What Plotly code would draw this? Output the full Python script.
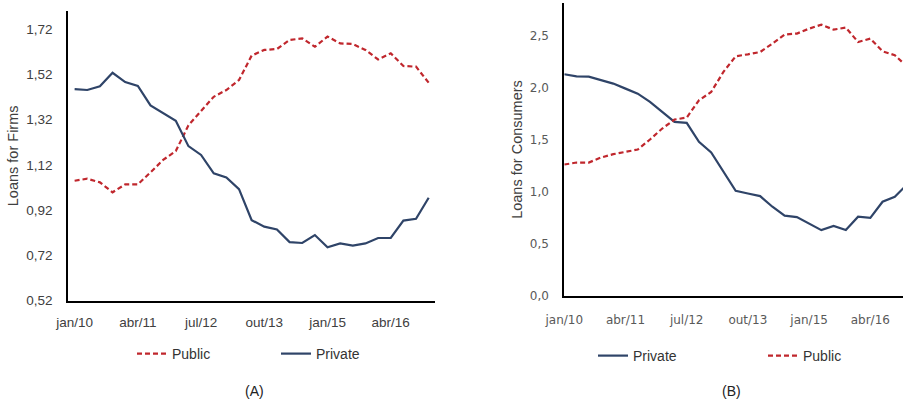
import plotly.graph_objects as go

quarters = ["jan/10", "abr/10", "jul/10", "out/10", "jan/11", "abr/11", "jul/11", "out/11",
            "jan/12", "abr/12", "jul/12", "out/12", "jan/13", "abr/13", "jul/13", "out/13",
            "jan/14", "abr/14", "jul/14", "out/14", "jan/15", "abr/15", "jul/15", "out/15",
            "jan/16", "abr/16", "jul/16", "out/16", "jan/17"]
tick_labels = ["jan/10", "abr/11", "jul/12", "out/13", "jan/15", "abr/16"]

firms_private = [1.455, 1.451, 1.467, 1.527, 1.486, 1.469, 1.383, 1.348, 1.315, 1.203,
                 1.164, 1.083, 1.065, 1.013, 0.876, 0.847, 0.835, 0.779, 0.775, 0.810,
                 0.756, 0.773, 0.763, 0.773, 0.797, 0.797, 0.874, 0.882, 0.975]
firms_public = [1.050, 1.059, 1.043, 0.999, 1.034, 1.034, 1.087, 1.142, 1.181, 1.295,
                1.358, 1.421, 1.451, 1.495, 1.603, 1.628, 1.632, 1.672, 1.679, 1.642,
                1.687, 1.657, 1.654, 1.628, 1.586, 1.613, 1.557, 1.554, 1.483]

cons_private = [2.127, 2.107, 2.104, 2.069, 2.037, 1.989, 1.941, 1.862, 1.766, 1.670,
                1.660, 1.478, 1.376, 1.191, 1.009, 0.983, 0.958, 0.856, 0.770, 0.757,
                0.696, 0.632, 0.671, 0.632, 0.760, 0.750, 0.904, 0.952, 1.070]
cons_public = [1.261, 1.280, 1.280, 1.328, 1.360, 1.383, 1.405, 1.501, 1.606, 1.692,
               1.711, 1.877, 1.957, 2.149, 2.299, 2.318, 2.340, 2.420, 2.507, 2.517,
               2.564, 2.602, 2.554, 2.574, 2.436, 2.468, 2.347, 2.309, 2.200]

RED = "#C0272D"
BLUE = "#2F4468"
W, H = 903, 414

fig = go.Figure()
fig.add_trace(go.Scatter(x=quarters, y=firms_public, name="Public", mode="lines",
                         line=dict(color=RED, width=2.2, dash="5px,3px"), showlegend=True,
                         xaxis="x", yaxis="y", legend="legend"))
fig.add_trace(go.Scatter(x=quarters, y=firms_private, name="Private", mode="lines",
                         line=dict(color=BLUE, width=2.2), showlegend=True,
                         xaxis="x", yaxis="y", legend="legend2"))
fig.add_trace(go.Scatter(x=quarters, y=cons_private, name="Private", mode="lines",
                         line=dict(color=BLUE, width=2.2), showlegend=True,
                         xaxis="x2", yaxis="y2", legend="legend3"))
fig.add_trace(go.Scatter(x=quarters, y=cons_public, name="Public", mode="lines",
                         line=dict(color=RED, width=2.2, dash="5px,3px"), showlegend=True,
                         xaxis="x2", yaxis="y2", legend="legend4"))

left_font = dict(family="Liberation Sans, Arial, sans-serif", size=13.5, color="#404040")
right_font = dict(family="DejaVu Sans, Verdana, sans-serif", size=12, color="#595959")
title_font = dict(family="Liberation Sans, Arial, sans-serif", size=14.5, color="#404040")
legend_font = dict(family="Liberation Sans, Arial, sans-serif", size=14, color="#333333")


def leg(xpx, ypx):
    return dict(orientation="h", x=xpx / W, y=(H - ypx) / H, xanchor="left", yanchor="middle",
                font=legend_font, bgcolor="rgba(0,0,0,0)", visible=True)


fig.update_layout(
    width=W, height=H,
    showlegend=True,
    margin=dict(l=0, r=0, t=0, b=0),
    paper_bgcolor="white", plot_bgcolor="white",
    xaxis=dict(domain=[68.3 / W, 435 / W], type="category", range=[-0.5, 28.5],
               tickmode="array", tickvals=tick_labels, ticktext=tick_labels,
               showgrid=False, zeroline=False, showline=True, linecolor="black", linewidth=2,
               ticks="", tickfont=left_font, ticklabelstandoff=8, anchor="y", automargin=False),
    yaxis=dict(domain=[(H - 300.7) / H, (H - 11) / H], range=[0.52, 1.80],
               tickmode="array", tickvals=[0.52, 0.72, 0.92, 1.12, 1.32, 1.52, 1.72],
               ticktext=["0,52", "0,72", "0,92", "1,12", "1,32", "1,52", "1,72"],
               showgrid=False, zeroline=False, showline=True, linecolor="black", linewidth=2,
               ticks="", tickfont=left_font, ticklabelstandoff=11, anchor="x", automargin=False,
               title=dict(text="Loans for Firms", standoff=4, font=title_font)),
    xaxis2=dict(domain=[564.3 / W, 1.0], type="category", range=[0, 27.67],
                tickmode="array", tickvals=tick_labels, ticktext=tick_labels,
                showgrid=False, zeroline=False, showline=True, linecolor="black", linewidth=2,
                ticks="", tickfont=right_font, ticklabelstandoff=12, anchor="y2", automargin=False),
    yaxis2=dict(domain=[(H - 296) / H, (H - 3) / H], range=[0, 2.81],
                tickmode="array", tickvals=[0, 0.5, 1.0, 1.5, 2.0, 2.5],
                ticktext=["0,0", "0,5", "1,0", "1,5", "2,0", "2,5"],
                showgrid=False, zeroline=False, showline=True, linecolor="black", linewidth=2,
                ticks="", tickfont=right_font, ticklabelstandoff=11, anchor="x2", automargin=False,
                title=dict(text="Loans for Consumers", standoff=4, font=title_font)),
    legend=leg(132, 354),
    legend2=leg(276, 354),
    legend3=leg(593, 356),
    legend4=leg(763, 356),
    annotations=[
        dict(text="(A)", x=243 / W, y=(H - 401) / H, xref="paper", yref="paper",
             showarrow=False, font=dict(family="Liberation Sans, Arial, sans-serif", size=14, color="#222222")),
        dict(text="(B)", x=743 / W, y=(H - 401) / H, xref="paper", yref="paper",
             showarrow=False, font=dict(family="Liberation Sans, Arial, sans-serif", size=14, color="#222222")),
    ],
)

fig.write_html("out.html", config={"displayModeBar": False},
               post_script="document.body.style.margin='0';")
